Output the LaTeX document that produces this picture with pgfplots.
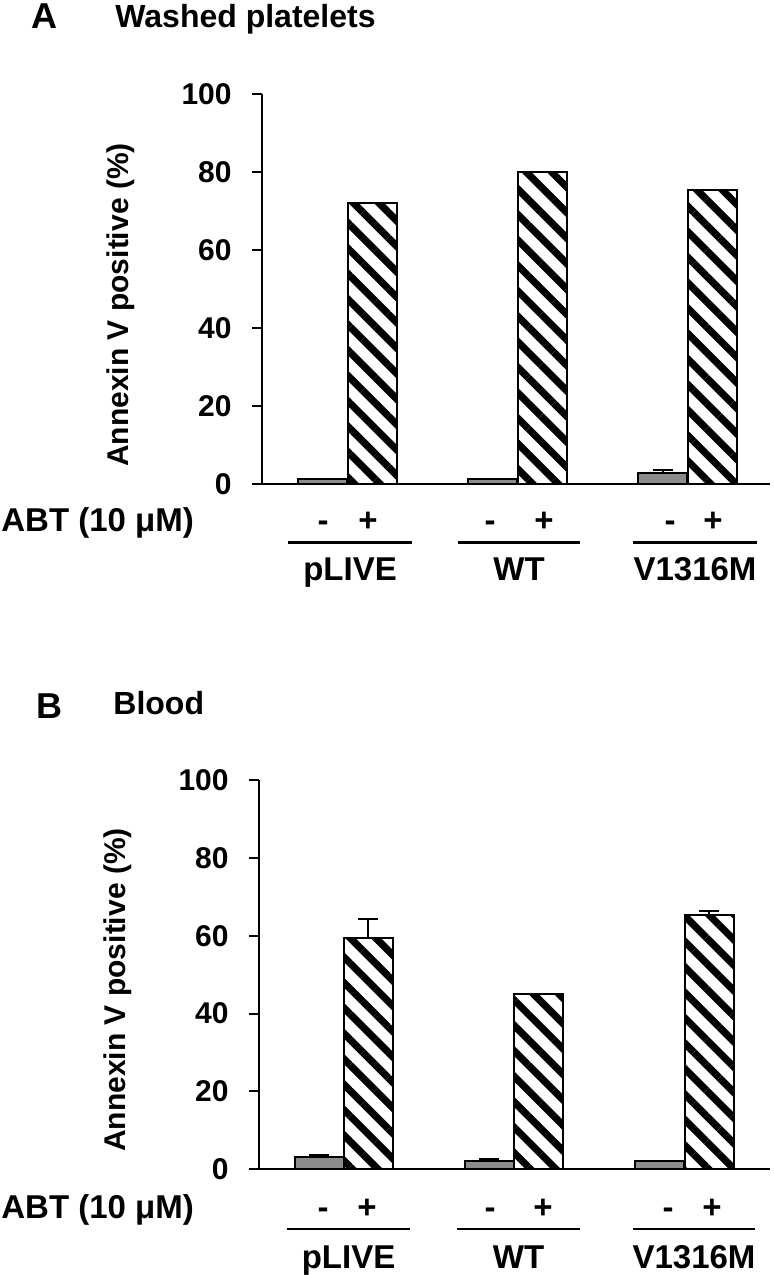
\documentclass[border=0pt]{standalone}
\usepackage{pgfplots}
\pgfplotsset{compat=1.18}
\usepackage{fontspec}
\setmainfont{Liberation Sans}
\usetikzlibrary{patterns.meta}
\definecolor{bargray}{RGB}{140,140,140}
\newcommand\ftick{\fontsize{15}{15}\selectfont\bfseries}
\newcommand\flab{\fontsize{16.5}{16.5}\selectfont\bfseries}
\newcommand\ftitle{\fontsize{16}{16}\selectfont\bfseries}
\newcommand\fpanel{\fontsize{18}{18}\selectfont\bfseries}
\pgfplotsset{
  panel/.style={
    scale only axis, anchor=south west,
    axis x line=bottom, axis y line=left,
    axis line style={line width=1pt,-,black},
    ymin=0, ymax=100, xmin=0,
    ytick={0,20,...,100}, xtick=\empty,
    tick align=outside, major tick length=5pt,
    every tick/.style={black,line width=1pt},
    /pgf/number format/assume math mode=true,
    yticklabel style={font=\ftick, anchor=east, inner sep=0pt, xshift=-10pt},
    clip=false,
  },
  minusbar/.style={ybar, bar shift=0pt, bar width=49, draw=black, line width=1pt, fill=bargray},
  plusbar/.style={ybar, bar shift=0pt, bar width=49, draw=black, line width=1pt, fill=white,
    postaction={pattern={Lines[angle=-45,distance=9pt,line width=3.6pt]}}},
  errs/.style={draw=none, mark=none, forget plot,
    error bars/.cd, y dir=plus, y explicit,
    error bar style={line width=1pt,black,solid},
    error mark=-,
    error mark options={line width=1pt, mark size=5pt, black, rotate=90}},
}
\begin{document}
\begin{tikzpicture}
\path[use as bounding box] (0,0) rectangle (386.5pt,637.5pt);

% Panel A
\begin{axis}[panel, at={(131pt,395.5pt)}, width=254pt, height=194.85pt, xmax=508]
\addplot[minusbar] coordinates {(60.5,1.3) (230.5,1.3) (400.5,2.7)};
\addplot[plusbar] coordinates {(110,72.0) (280,80.1) (450,75.5)};
\addplot[errs] coordinates {(400.5,2.7) +- (0,0.9)};
\end{axis}

% Panel B
\begin{axis}[panel, at={(129.5pt,53pt)}, width=255.5pt, height=194.25pt, xmax=511]
\addplot[minusbar] coordinates {(60,3.1) (230,2.0) (400,2.0)};
\addplot[plusbar] coordinates {(109,59.5) (279,45.0) (450,65.5)};
\addplot[errs] coordinates {(60,3.1) +- (0,0.5) (230,2.0) +- (0,0.7) (109,59.5) +- (0,4.9) (450,65.5) +- (0,1.0)};
\end{axis}

\begin{scope}[x=0.5pt, y=-0.5pt, yshift=637.5pt]
  % titles
  \node[anchor=base west, inner sep=0pt, font=\fpanel] at (31,29) {A};
  \node[anchor=base west, inner sep=0pt, font=\ftitle] at (115,28) {Washed platelets};
  \node[anchor=base west, inner sep=0pt, font=\fpanel] at (36,719) {B};
  \node[anchor=base west, inner sep=0pt, font=\ftitle] at (113,715) {Blood};
  % y labels
  \node[rotate=90, inner sep=0pt, font=\ftick] at (121,305) {Annexin V positive (\%)};
  \node[rotate=90, inner sep=0pt, font=\ftick] at (118,990) {Annexin V positive (\%)};
  % panel A category rows
  \node[anchor=base west, inner sep=0pt, font=\flab] at (1,532) {ABT (10 μM)};
  \foreach \x in {323,490,670} {\node[anchor=base, inner sep=0pt, font=\flab] at (\x,532) {-};}
  \foreach \x in {368,544,713} {\node[anchor=base, inner sep=0pt, font=\flab] at (\x,532) {+};}
  \draw[line width=1.3pt] (288,542.7) -- (412,542.7);
  \draw[line width=1.3pt] (458,542.7) -- (580,542.7);
  \draw[line width=1.3pt] (633,542.7) -- (757,542.7);
  \node[anchor=base, inner sep=0pt, font=\flab] at (350,581) {pLIVE};
  \node[anchor=base, inner sep=0pt, font=\flab] at (519,581) {WT};
  \node[anchor=base, inner sep=0pt, font=\flab] at (695,581) {V1316M};
  % panel B category rows
  \node[anchor=base west, inner sep=0pt, font=\flab] at (1,1219) {ABT (10 μM)};
  \foreach \x in {323,490,668} {\node[anchor=base, inner sep=0pt, font=\flab] at (\x,1219) {-};}
  \foreach \x in {367,543,712} {\node[anchor=base, inner sep=0pt, font=\flab] at (\x,1219) {+};}
  \draw[line width=1.3pt] (287,1229) -- (410,1229);
  \draw[line width=1.3pt] (457,1229) -- (580,1229);
  \draw[line width=1.3pt] (633,1229) -- (755,1229);
  \node[anchor=base, inner sep=0pt, font=\flab] at (348.5,1269) {pLIVE};
  \node[anchor=base, inner sep=0pt, font=\flab] at (518.5,1269) {WT};
  \node[anchor=base, inner sep=0pt, font=\flab] at (694,1269) {V1316M};
\end{scope}
\end{tikzpicture}
\end{document}
